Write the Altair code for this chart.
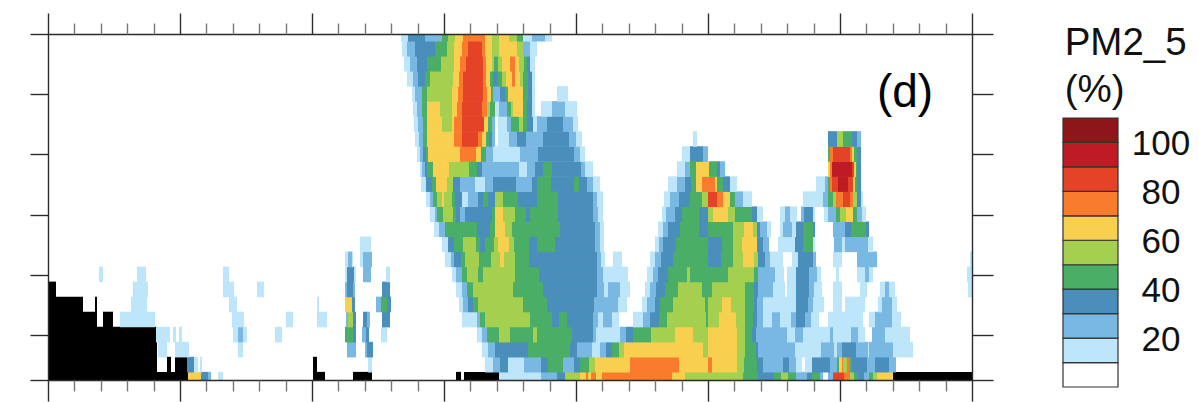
import altair as alt
import pandas as pd

# Class colours: 0 white ... 10 dark red, 11 = missing / terrain (black)
class_ids = list(range(12))
class_colors = ["#ffffff", "#bde6fa", "#7ab8e4", "#4a8fbc", "#4bae66", "#a5d04f",
                "#f9cf4f", "#f97c2e", "#e54327", "#bf1b24", "#8e1518", "#000000"]

# x axis: time in unlabeled units; each level holds "start:class" runs
time_end = 924
major_ticks = [0, 132, 264, 396, 528, 660, 792, 924]
minor_ticks = [26.4, 52.8, 79.2, 105.6, 158.4, 184.8, 211.2, 237.6, 290.4, 316.8, 343.2, 369.6,
               422.4, 448.8, 475.2, 501.6, 554.4, 580.8, 607.2, 633.6, 686.4, 712.8, 739.2, 765.6,
               818.4, 844.8, 871.2, 897.6]
level_ticks = [0, 3, 7, 11, 15, 19, 23]

L23 = "353:1 360:3 377:2 394:4 400:5 407:6 415:7 437:6 444:5 451:6 461:5 469:4 475:1 484:2 497:1 504:0"
L22 = "354:1 359:2 367:3 387:4 399:5 406:6 414:7 420:8 434:7 437:6 444:5 451:6 469:5 475:2 482:1 489:0"
L21 = "356:1 362:2 369:3 379:4 393:5 406:6 412:7 418:8 435:7 438:6 444:5 446:4 450:5 454:6 462:7 467:6 471:5 476:4 479:3 482:1 487:0"
L20 = "359:1 365:2 370:3 377:4 382:5 405:6 411:7 415:8 435:7 438:6 442:4 445:3 450:4 454:5 458:6 464:7 467:6 472:5 475:4 480:3 484:1 487:0"
L19 = "364:1 367:2 374:4 379:5 404:6 410:7 415:8 435:7 439:6 443:4 445:2 452:3 457:4 460:6 475:4 480:3 484:1 487:0 509:1 520:0"
L18 = "365:1 369:2 374:4 379:6 392:5 404:6 409:7 414:8 434:7 439:5 442:4 447:1 451:2 459:4 463:5 465:6 475:4 479:3 484:1 487:0 493:1 504:2 517:1 529:0"
L17 = "366:1 370:2 375:4 379:6 394:5 404:6 406:7 414:8 436:6 440:4 444:2 447:0 450:1 459:2 463:4 471:5 475:4 479:3 485:1 489:2 499:3 515:2 525:1 530:0"
L16 = "367:1 371:2 375:4 379:6 406:7 414:8 430:7 434:6 438:4 441:3 444:2 447:0 450:1 461:2 469:3 478:2 495:3 521:2 528:1 534:0 645:1 649:0 780:3 789:5 795:4 804:3 809:2 813:0"
L15 = "369:1 372:2 375:3 378:4 380:6 412:7 428:6 433:4 438:2 445:1 472:2 490:3 526:2 532:1 537:0 634:1 642:3 655:2 660:0 780:4 782:7 785:8 802:7 804:6 806:4 809:3 813:0"
L14 = "372:1 374:2 377:3 379:4 385:6 401:5 421:4 429:3 434:2 471:1 479:2 487:3 495:4 504:3 533:2 537:1 545:0 629:1 637:2 642:4 648:6 661:4 669:3 672:2 677:0 780:6 782:7 784:9 804:8 806:6 808:4 809:3 813:0"
L13 = "373:1 378:3 384:4 388:6 399:5 405:3 412:2 427:1 437:2 445:3 468:2 484:3 489:4 503:3 526:4 531:3 539:2 545:1 552:0 620:1 629:2 637:3 643:4 648:6 654:7 667:6 669:4 675:3 682:1 689:0 768:1 777:2 780:4 782:7 784:8 790:9 800:8 805:6 807:4 809:3 813:0"
L12 = "378:1 382:2 385:4 389:5 394:6 396:5 404:4 407:3 414:1 420:2 430:3 435:4 440:3 447:5 455:4 470:3 489:4 510:3 545:2 549:1 555:0 616:1 622:2 631:3 642:4 654:5 660:8 669:7 675:6 682:4 687:2 695:1 704:0 755:1 775:2 780:4 785:5 788:7 795:8 802:7 805:5 809:3 813:1 815:0"
L11 = "382:1 387:2 389:4 395:5 405:4 408:3 412:2 417:3 444:4 447:6 455:5 467:4 478:3 482:4 510:3 545:2 550:1 555:0 614:1 618:2 627:3 634:4 651:3 660:5 665:6 680:5 687:4 704:3 709:1 715:0 732:1 737:2 742:1 749:0 753:2 756:3 765:1 767:0 776:1 780:2 788:4 792:5 798:6 805:4 809:2 814:1 818:0"
L10 = "386:1 391:2 397:4 429:3 442:4 447:6 457:5 464:4 512:3 547:2 552:1 556:0 610:1 615:2 620:3 632:4 651:3 660:4 685:5 696:6 705:5 709:3 712:2 719:1 723:0 732:1 735:2 744:1 748:3 755:4 765:3 767:0 785:2 797:3 803:4 818:3 821:0"
L9 = "312:1 323:0 394:1 400:3 406:4 415:5 428:4 432:3 437:4 446:5 450:6 461:5 466:4 481:3 489:4 507:3 547:2 552:1 556:0 607:1 611:2 615:3 628:4 660:3 674:4 685:5 694:6 709:3 715:2 721:0 730:1 747:3 755:4 765:1 767:0 786:2 794:1 797:2 820:1 825:0"
L8 = "297:1 300:2 304:1 305:0 312:1 315:2 324:0 397:1 403:2 406:3 413:4 417:5 431:4 443:5 452:6 456:5 467:4 481:3 549:2 553:1 557:0 565:1 574:0 602:1 607:2 613:3 625:4 660:3 673:4 685:5 695:6 706:5 710:3 717:2 722:1 735:0 744:1 750:3 765:2 768:0 785:1 794:0 809:2 829:0 922:1"
L7 = "51:1 55:0 89:1 98:0 175:1 181:0 297:1 299:3 306:1 308:0 315:2 323:0 338:1 342:0 404:1 408:2 414:4 419:5 430:4 435:5 467:4 491:3 549:2 555:1 580:0 599:1 605:2 610:3 620:4 639:5 642:4 680:5 706:4 710:2 727:1 736:0 739:1 748:3 761:2 769:1 773:0 788:1 791:0 809:1 817:2 821:1 825:0 919:1"
L6 = "0:11 8:0 85:1 100:0 175:1 186:0 209:1 216:0 297:2 299:3 305:2 307:0 334:3 342:0 408:1 414:2 419:4 425:5 465:4 495:3 549:2 556:1 560:2 572:1 582:0 597:1 602:2 608:3 617:4 630:5 654:4 664:5 697:4 706:3 710:2 725:1 737:0 739:1 748:3 761:2 766:1 774:0 785:1 794:0 812:1 819:0 832:1 837:2 841:1 847:0 920:1"
L5 = "0:11 35:0 47:11 49:0 83:1 99:0 181:1 189:0 269:1 271:0 297:6 304:3 307:0 328:2 333:4 339:3 343:0 411:1 415:2 420:3 425:4 430:5 475:4 499:3 546:2 570:1 579:0 594:1 599:2 607:3 612:4 625:5 657:4 660:5 674:6 683:5 697:4 706:3 709:2 715:1 748:3 760:2 765:1 776:0 785:1 794:0 797:1 817:0 830:1 834:2 844:1 849:0"
L4 = "0:11 49:0 55:11 65:0 72:1 107:0 184:1 196:0 238:1 245:0 269:1 279:0 298:2 300:5 305:3 308:0 315:3 319:2 322:0 334:3 342:0 414:1 429:2 432:4 437:5 482:4 504:3 511:4 519:3 545:2 550:1 555:2 564:1 571:0 585:1 595:2 602:3 611:4 619:5 658:4 660:5 671:6 688:5 697:4 705:3 709:2 715:1 724:2 732:1 743:2 748:3 757:2 763:1 771:0 780:1 815:0 821:1 827:2 844:1 853:0"
L3 = "0:11 108:1 122:0 125:1 128:0 131:1 134:0 185:1 190:2 195:1 199:0 227:1 234:0 297:4 305:3 308:0 314:2 318:3 321:0 333:1 339:0 429:1 434:2 439:4 451:5 462:4 485:5 489:4 524:3 545:2 548:1 572:2 578:3 585:4 603:5 627:6 645:5 660:6 689:5 697:4 704:3 708:2 739:1 747:2 755:1 782:2 785:1 803:2 810:1 817:0 824:2 837:1 862:0"
L2 = "0:11 109:0 110:1 119:0 127:1 141:0 190:1 195:0 299:2 308:0 317:2 319:3 325:0 434:1 440:2 447:3 480:4 522:3 529:2 544:1 552:2 558:3 564:4 571:5 576:6 655:5 660:6 689:5 697:4 708:3 710:2 747:1 773:2 786:1 789:2 794:3 808:2 820:1 821:2 845:1 865:0"
L1 = "0:11 109:0 119:11 123:0 127:11 139:3 146:1 150:0 152:1 154:0 265:11 269:0 320:1 324:0 437:1 445:2 452:3 460:1 476:2 493:3 500:4 515:2 526:3 532:4 541:5 547:6 582:7 631:6 660:7 664:6 689:5 696:4 709:3 715:2 735:3 741:2 748:1 754:0 757:1 764:3 782:2 789:4 791:6 794:7 795:5 799:7 802:4 804:3 819:2 827:3 841:2 848:0"
L0 = "0:11 140:6 153:3 160:2 163:0 170:1 175:0 265:11 277:0 305:11 324:0 408:11 413:0 416:11 451:1 493:2 509:3 517:5 532:6 538:7 540:6 543:7 548:6 554:7 624:6 637:5 695:4 710:3 726:4 733:5 740:4 748:2 759:3 764:4 772:2 775:0 780:2 785:8 796:7 802:5 806:4 810:3 816:2 821:4 825:5 829:6 845:11"
levels = [L0, L1, L2, L3, L4, L5, L6, L7, L8, L9, L10, L11, L12, L13, L14, L15, L16, L17, L18, L19, L20, L21, L22, L23]

legend_labels = [20, 40, 60, 80, 100]
title_lines = ["PM2_5", "(%)"]
panel_label = "(d)"

records = []
for k, text in enumerate(levels):
    runs = [tuple(float(v) for v in part.split(":")) for part in text.split()]
    for i, (start, cls) in enumerate(runs):
        end = runs[i + 1][0] if i + 1 < len(runs) else time_end
        if cls > 0:
            # levels overlap by a hair so that no seam shows between rows
            records.append({"t0": start, "t1": end, "z0": max(k - 0.5, 0), "z1": min(k + 0.54, 23), "cls": int(cls)})
cells_df = pd.DataFrame(records)

xs = alt.Scale(domain=[0, time_end], nice=False, zero=False)
ys = alt.Scale(domain=[0, 23], nice=False, zero=False)
cs = alt.Scale(domain=class_ids, range=class_colors)

LINE = "#2b2b2b"
MINOR = "#777777"


def axis(orient, values, size, domain=True, color=LINE):
    return alt.Axis(orient=orient, values=values, tickSize=size, labels=False, title=None, grid=False,
                    domain=domain, domainColor=LINE, domainWidth=1.4, tickColor=color, tickWidth=1.4, zindex=2)


cells = alt.Chart(cells_df).mark_rect().encode(
    x=alt.X("t0:Q", scale=xs, axis=axis("bottom", major_ticks, 21)),
    x2="t1:Q",
    y=alt.Y("z0:Q", scale=ys, axis=axis("left", level_ticks, 18)),
    y2="z1:Q",
    color=alt.Color("cls:O", scale=cs, legend=None),
)


def ghost_x(values, orient, size, domain, color):
    return alt.Chart(pd.DataFrame({"v": values})).mark_rule(opacity=0).encode(
        x=alt.X("v:Q", scale=xs, axis=axis(orient, values, size, domain, color)))


ghost_y = alt.Chart(pd.DataFrame({"v": level_ticks})).mark_rule(opacity=0).encode(
    y=alt.Y("v:Q", scale=ys, axis=axis("right", level_ticks, 21)))

label_d = alt.Chart(pd.DataFrame({"t": [857], "z": [19.1], "s": [panel_label]})).mark_text(
    font="Liberation Sans", fontSize=46, color="#000000", align="center", baseline="middle").encode(
    x=alt.X("t:Q", scale=xs, axis=None), y=alt.Y("z:Q", scale=ys, axis=None), text="s:N")

main = alt.layer(
    cells,
    ghost_x(major_ticks, "top", 21, True, LINE),
    ghost_x(minor_ticks, "top", 11, False, MINOR),
    ghost_x(minor_ticks, "bottom", 11, False, MINOR),
    ghost_y,
    label_d,
).resolve_axis(x="independent", y="independent")

# Colour key, drawn on scales of its own to the right of the panel
lx = alt.Scale(domain=[0, 1], range=[1015, 1070], nice=False, zero=False)
ly = alt.Scale(domain=[0, 110], range=[353, 84], nice=False, zero=False)
key_df = pd.DataFrame({"a": [0] * 11, "b": [1] * 11, "p0": [i * 10 for i in range(11)],
                       "p1": [(i + 1) * 10 for i in range(11)], "cls": list(range(11))})
key = alt.Chart(key_df).mark_rect(stroke="#333333", strokeWidth=1.2).encode(
    x=alt.X("a:Q", scale=lx, axis=None), x2="b:Q",
    y=alt.Y("p0:Q", scale=ly, axis=None), y2="p1:Q",
    color=alt.Color("cls:O", scale=alt.Scale(domain=list(range(11)), range=class_colors[:11]), legend=None),
)
key_text = alt.Chart(pd.DataFrame({"a": [1.78] * 5, "p": [v - 0.6 for v in legend_labels], "s": [str(v) for v in legend_labels]})).mark_text(
    font="Liberation Sans", fontSize=35, color="#111111", align="center", baseline="middle").encode(
    x=alt.X("a:Q", scale=lx, axis=None), y=alt.Y("p:Q", scale=ly, axis=None), text="s:N")
key_title = alt.Chart(pd.DataFrame({"a": [0.03, 0.03], "p": [135.8, 116.6], "s": title_lines})).mark_text(
    font="Liberation Sans", fontSize=38.5, color="#111111", align="left", baseline="alphabetic").encode(
    x=alt.X("a:Q", scale=lx, axis=None), y=alt.Y("p:Q", scale=ly, axis=None), text="s:N")
legend = alt.layer(key, key_text, key_title)

chart = alt.layer(main, legend).resolve_scale(x="independent", y="independent", color="independent").properties(
    width=924, height=346,
    autosize=alt.AutoSizeParams(type="none"),
    padding={"left": 40, "top": 26, "right": 219, "bottom": 22},
    background="white",
).configure_view(stroke=None)

chart.save("out.html", embed_options={"renderer": "svg", "actions": False})
